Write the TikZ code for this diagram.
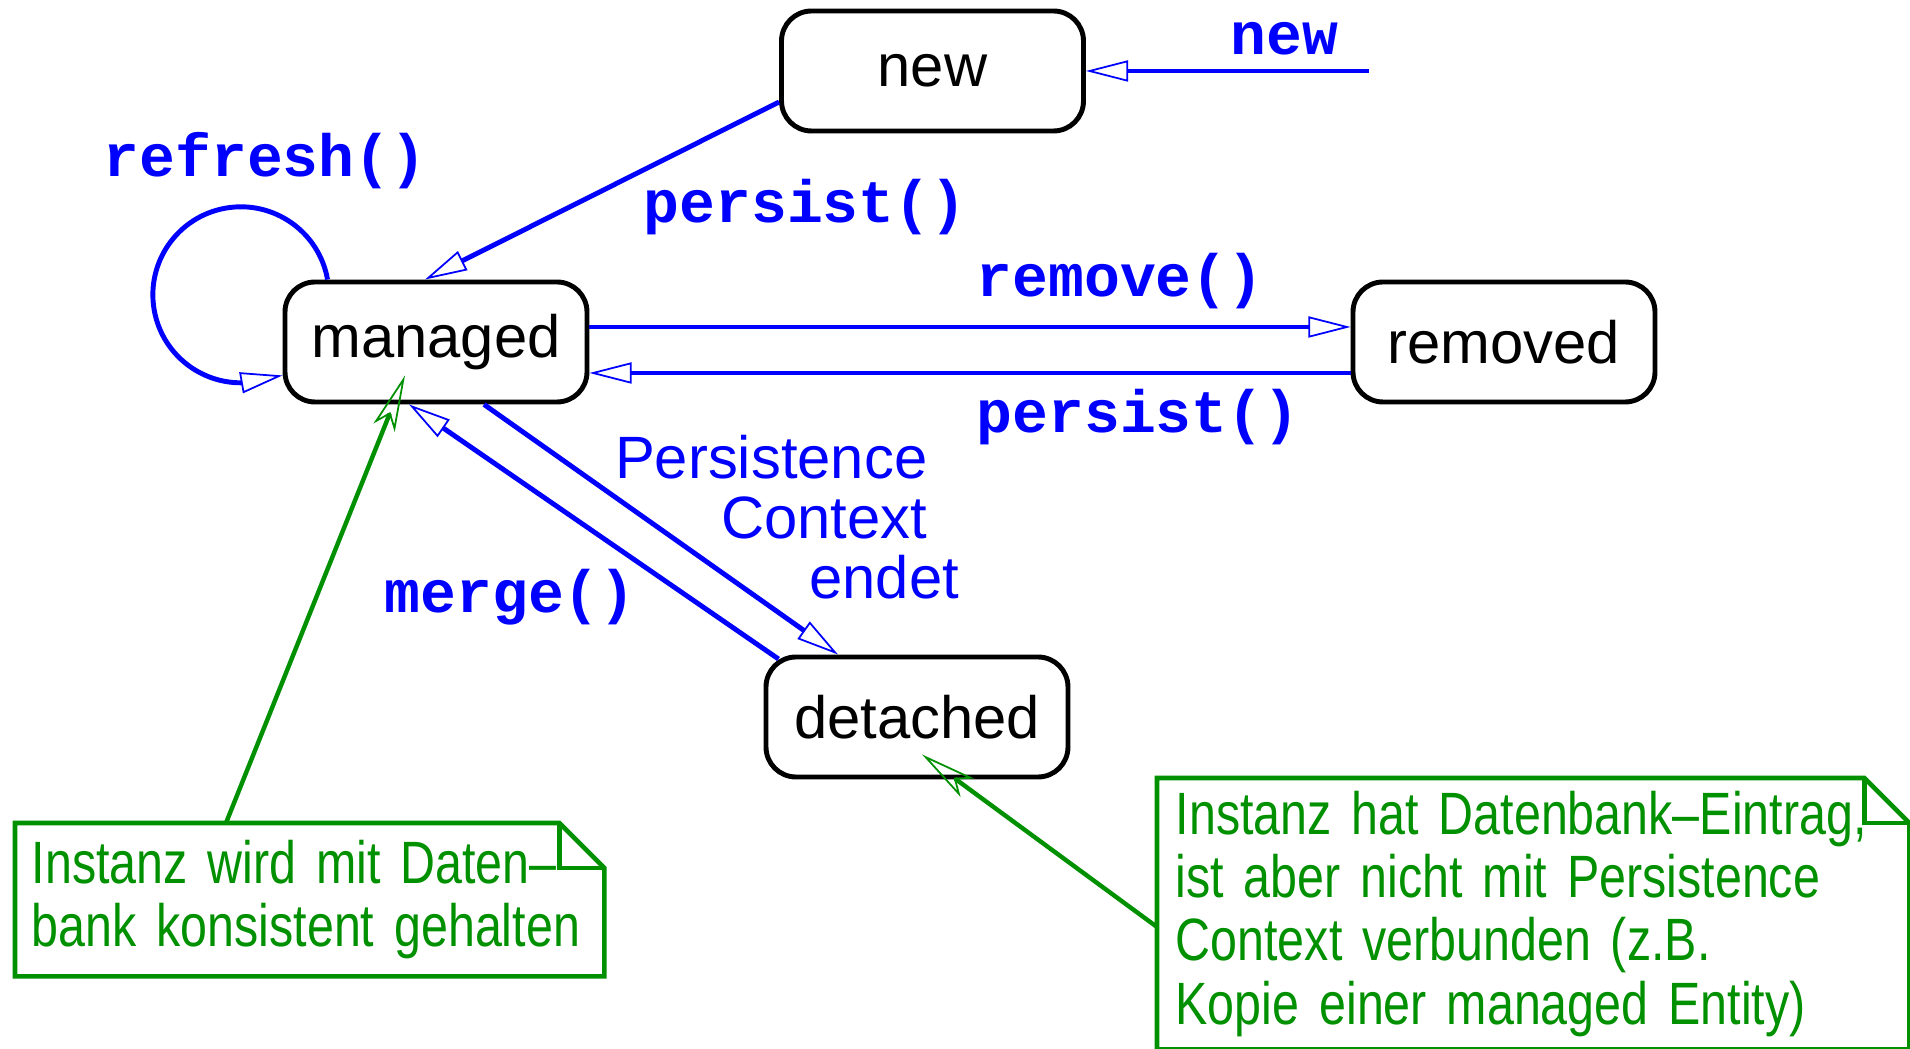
\documentclass[tikz,border=0pt]{standalone}
\usepackage{xcolor}
\usepackage{fontspec}
\setmainfont{Liberation Sans}
\setmonofont{Liberation Mono}
\newfontfamily\notefont[FakeStretch=0.81,WordSpace=0.75]{Liberation Sans}
\usepackage{tikz}
\usetikzlibrary{arrows.meta,positioning}

\definecolor{xgreen}{RGB}{0,144,0}

\newcommand\dogear[1]{%
  \draw[noteline] (#1.south west) -- (#1.north west) -- ([xshift=-0.45cm]#1.north east)
    -- ([yshift=-0.45cm]#1.north east) -- (#1.south east) -- cycle;
  \draw[noteline] ([xshift=-0.45cm]#1.north east) |- ([yshift=-0.45cm]#1.north east);}

\begin{document}
\begin{tikzpicture}[
    state/.style={draw,line width=1.4pt,rounded corners=0.3cm,minimum width=3.02cm,
      minimum height=1.2cm,inner sep=0pt,font=\fontsize{17}{20}\selectfont},
    trans/.style={draw=blue,line width=1.4pt,
      -{Triangle[open,length=12pt,width=6pt,line width=0.5pt 0]}},
    hint/.style={draw=xgreen,line width=1.25pt,
      -{Stealth[open,length=16pt,width=6.5pt,inset=4pt,line width=0.5pt 0]}},
    lbl/.style={text=blue,inner sep=0pt,anchor=base west,
      font=\ttfamily\bfseries\fontsize{17}{20}\selectfont},
    note/.style={text=xgreen,anchor=north west,align=left,inner ysep=0pt,
      font=\notefont\fontsize{17}{18}\selectfont},
    noteline/.style={draw=xgreen,line width=1.3pt}]
  \useasboundingbox (0,0) rectangle (19.10,-10.49);

  \node[state] (new) at (9.325,-0.71) {new};
  \node[state] (managed) at (4.36,-3.42) {managed};
  \node[state] (removed) at (15.04,-3.42) {removed};
  \node[state] (detached) at (9.17,-7.17) {detached};

  \coordinate (start) at (13.69,-0.71);
  \node[lbl] (lnew) at (12.30,-0.55) {new};
  \node[lbl] (lrefresh) at (1.03,-1.77) {refresh()};
  \node[lbl] (lpersist) at (6.43,-2.23) {persist()};
  \node[lbl] (lremove) at (9.76,-2.97) {remove()};
  \node[lbl] (lpersistb) at (9.76,-4.33) {persist()};
  \node[lbl] (lmerge) at (3.84,-6.13) {merge()};
  \node[text=blue,inner sep=0pt,align=right,anchor=north east,
    font=\fontsize{17}{17}\selectfont] (lends) at (9.28,-4.35)
    {Persistence\\Context\\endet\hspace*{-9pt}};

  \draw[trans] (start) -- (new.east);
  \draw[trans] ([yshift=-0.31cm]new.west) -- ([xshift=-0.11cm]managed.north);
  \draw[trans] ([yshift=0.15cm]managed.east) -- ([yshift=0.15cm]removed.west);
  \draw[trans] ([yshift=-0.31cm]removed.west) -- ([yshift=-0.31cm]managed.east);
  \draw[trans] ([xshift=0.48cm]managed.south) -- ([xshift=-0.79cm]detached.north);
  \draw[trans] ([xshift=0.15cm,yshift=-0.045cm]detached.north west) -- ([xshift=-0.27cm]managed.south);
  \draw[trans] ([xshift=0.45cm]managed.north west) arc[start angle=10,end angle=270,radius=0.88]
    -- ([yshift=0.29cm]managed.south west);

  \node[note,minimum width=5.88cm,minimum height=1.52cm,text width=5.56cm,inner xsep=0.16cm]
    (n1) at (0.15,-8.23) {Instanz wird mit Daten–\\bank konsistent gehalten};
  \node[note,minimum width=7.51cm,minimum height=2.70cm,text width=7.15cm,inner xsep=0.18cm]
    (n2) at (11.57,-7.78) {Instanz hat Datenbank–Eintrag,\\ist aber nicht mit Persistence\\
    Context verbunden (z.B.\\Kopie einer managed Entity)};
  \dogear{n1}
  \dogear{n2}

  \draw[hint] ([xshift=2.11cm]n1.north west) -- ([xshift=-0.31cm,yshift=0.29cm]managed.south);
  \draw[hint] ([yshift=-1.49cm]n2.north west) -- ([xshift=0.05cm,yshift=0.25cm]detached.south);
\end{tikzpicture}
\end{document}
